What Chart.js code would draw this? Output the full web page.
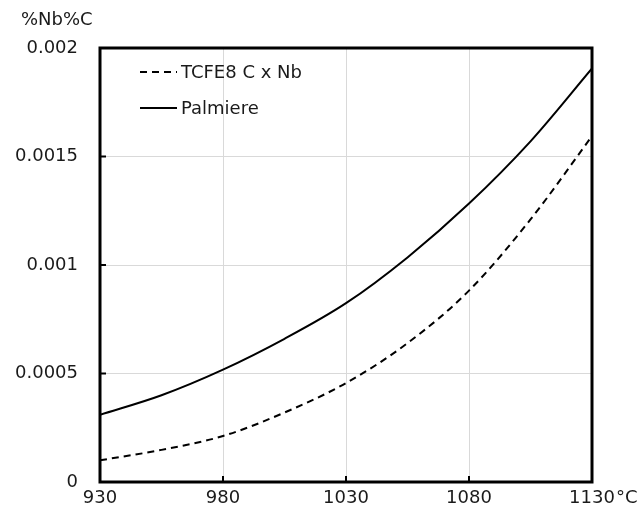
<!DOCTYPE html>
<html>
<head>
<meta charset="utf-8">
<script src="https://cdn.jsdelivr.net/npm/chart.js@4/dist/chart.umd.min.js"></script>
<style>
  html, body { margin: 0; padding: 0; background: #fff; }
  #wrap { width: 638px; height: 521px; }
</style>
</head>
<body>
<div id="wrap"><canvas id="solubility" width="638" height="521"></canvas></div>
<script>
// Solubility product [%Nb][%C] against temperature
const temps = [930, 955, 980, 1005, 1030, 1055, 1080, 1105, 1130];
const tcfe8 = [0.0001, 0.000148, 0.000212, 0.00032, 0.000456, 0.00064, 0.000882, 0.00121, 0.001594];
const palmiere = [0.00031, 0.0004, 0.000518, 0.00066, 0.000824, 0.001035, 0.001283, 0.00157, 0.001906];
const seriesNames = ['TCFE8 C x Nb', 'Palmiere'];
const yTicks = [0, 0.0005, 0.001, 0.0015, 0.002];
const xTicks = [930, 980, 1030, 1080, 1130];
const yUnit = '%Nb%C';
const xUnit = '\u00B0C';

const FONT = '"DejaVu Sans", sans-serif';
const TEXT = '#1a1a1a';

function pts(vals) {
  return temps.map((t, i) => ({ x: t, y: vals[i] }));
}

// frame, inward tick marks, in-plot legend and unit labels
const decor = {
  id: 'decor',
  afterDatasetsDraw(chart) {
    const { ctx, chartArea: a, scales } = chart;
    ctx.save();
    ctx.strokeStyle = '#000';
    ctx.lineWidth = 2;
    xTicks.forEach(v => {
      const x = scales.x.getPixelForValue(v);
      ctx.beginPath(); ctx.moveTo(x, a.bottom); ctx.lineTo(x, a.bottom - 6); ctx.stroke();
    });
    yTicks.forEach(v => {
      const y = scales.y.getPixelForValue(v);
      ctx.beginPath(); ctx.moveTo(a.left, y); ctx.lineTo(a.left + 6, y); ctx.stroke();
    });
    ctx.lineWidth = 3;
    ctx.strokeRect(a.left, a.top, a.right - a.left, a.bottom - a.top);

    // legend
    ctx.font = '18px ' + FONT;
    ctx.fillStyle = TEXT;
    ctx.textBaseline = 'middle';
    chart.data.datasets.forEach((ds, i) => {
      const y = a.top + 24 + i * 36;
      ctx.beginPath();
      ctx.lineWidth = 2;
      ctx.setLineDash(ds.borderDash || []);
      ctx.moveTo(a.left + 40, y);
      ctx.lineTo(a.left + 77, y);
      ctx.stroke();
      ctx.setLineDash([]);
      ctx.fillText(ds.label, a.left + 81, y + 1);
    });

    // units
    ctx.textAlign = 'left';
    ctx.fillText(yUnit, 21, 20);
    const xs = scales.x;
    const last = xTicks[xTicks.length - 1];
    const w = ctx.measureText(String(last)).width;
    ctx.fillText(xUnit, xs.getPixelForValue(last) + w / 2 + 1, 498);
    ctx.restore();
  }
};

new Chart(document.getElementById('solubility'), {
  type: 'line',
  data: {
    datasets: [
      { label: seriesNames[0], data: pts(tcfe8), borderColor: '#000', borderWidth: 2, borderDash: [7, 5], pointRadius: 0, cubicInterpolationMode: 'monotone', fill: false },
      { label: seriesNames[1], data: pts(palmiere), borderColor: '#000', borderWidth: 2, pointRadius: 0, cubicInterpolationMode: 'monotone', fill: false }
    ]
  },
  options: {
    responsive: false,
    animation: false,
    layout: { padding: { left: 0, right: 46, top: 48, bottom: 0 } },
    plugins: { legend: { display: false }, tooltip: { enabled: false } },
    scales: {
      x: {
        type: 'linear',
        min: 930,
        max: 1130,
        afterFit: s => { s.height = 39; },
        afterBuildTicks: s => { s.ticks = xTicks.map(v => ({ value: v })); },
        grid: { color: '#d9d9d9', lineWidth: 1, drawTicks: false },
        border: { display: false },
        ticks: { color: TEXT, font: { family: FONT, size: 18 }, padding: 6, maxRotation: 0, callback: v => String(v) }
      },
      y: {
        min: 0,
        max: 0.002,
        afterFit: s => { s.width = 100; },
        afterBuildTicks: s => { s.ticks = yTicks.map(v => ({ value: v })); },
        grid: { color: '#d9d9d9', lineWidth: 1, drawTicks: false },
        border: { display: false },
        ticks: { color: TEXT, font: { family: FONT, size: 18 }, padding: 22, callback: v => String(Number(v.toFixed(4))) }
      }
    }
  },
  plugins: [decor]
});
</script>
</body>
</html>
